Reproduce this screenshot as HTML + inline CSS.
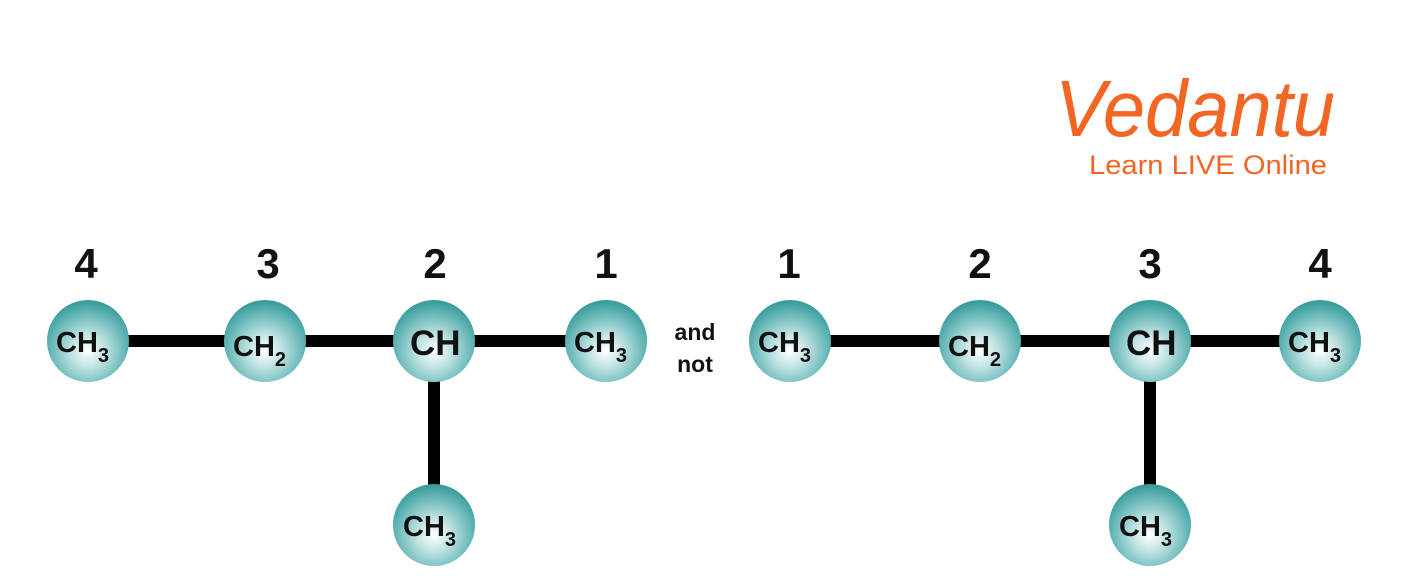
<!DOCTYPE html>
<html><head><meta charset="utf-8"><style>
html,body{margin:0;padding:0;background:#fff;}
svg{display:block;}
text{font-family:"Liberation Sans",sans-serif;}
</style></head><body>
<svg width="1408" height="587" viewBox="0 0 1408 587" xmlns="http://www.w3.org/2000/svg">
<defs>
<radialGradient id="g" cx="0.5" cy="0.62" r="0.6" fx="0.5" fy="0.62">
<stop offset="0" stop-color="#ffffff"/>
<stop offset="0.35" stop-color="#bfe2e2"/>
<stop offset="0.8" stop-color="#5fb3b3"/>
<stop offset="1" stop-color="#3b9c9c"/>
</radialGradient>
</defs>
<!-- logo -->
<text x="1055" y="136" font-family="'Liberation Serif',serif" font-style="italic" font-size="80" fill="#f26522" textLength="280" lengthAdjust="spacingAndGlyphs">Vedantu</text>
<text x="1089" y="174" font-size="27" fill="#f26522" textLength="238" lengthAdjust="spacingAndGlyphs">Learn LIVE Online</text>
<!-- bonds -->
<g stroke="#000" stroke-width="12">
<line x1="88" y1="341" x2="606" y2="341"/>
<line x1="434" y1="341" x2="434" y2="525"/>
<line x1="790" y1="341" x2="1320" y2="341"/>
<line x1="1150" y1="341" x2="1150" y2="525"/>
</g>
<g fill="url(#g)">
<circle cx="88" cy="341" r="41"/><circle cx="265" cy="341" r="41"/><circle cx="434" cy="341" r="41"/><circle cx="606" cy="341" r="41"/><circle cx="434" cy="525" r="41"/>
<circle cx="790" cy="341" r="41"/><circle cx="980" cy="341" r="41"/><circle cx="1150" cy="341" r="41"/><circle cx="1320" cy="341" r="41"/><circle cx="1150" cy="525" r="41"/>
</g>
<g font-size="42" text-anchor="middle" fill="#111" font-weight="bold">
<text x="86" y="278">4</text><text x="268" y="278">3</text><text x="435" y="278">2</text><text x="606" y="278">1</text>
<text x="789" y="278">1</text><text x="980" y="278">2</text><text x="1150" y="278">3</text><text x="1320" y="278">4</text>
</g>
<g font-size="29" fill="#111" font-weight="bold">
<text x="56" y="352">CH<tspan font-size="20" dy="10">3</tspan></text>
<text x="233" y="356">CH<tspan font-size="20" dy="10">2</tspan></text>
<text x="410" y="355" font-size="35">CH</text>
<text x="574" y="352">CH<tspan font-size="20" dy="10">3</tspan></text>
<text x="403" y="536">CH<tspan font-size="20" dy="10">3</tspan></text>
<text x="758" y="352">CH<tspan font-size="20" dy="10">3</tspan></text>
<text x="948" y="356">CH<tspan font-size="20" dy="10">2</tspan></text>
<text x="1126" y="355" font-size="35">CH</text>
<text x="1288" y="352">CH<tspan font-size="20" dy="10">3</tspan></text>
<text x="1119" y="536">CH<tspan font-size="20" dy="10">3</tspan></text>
</g>
<g font-size="23" text-anchor="middle" fill="#111" font-weight="bold">
<text x="695" y="340">and</text><text x="695" y="372">not</text>
</g>
</svg>
</body></html>
